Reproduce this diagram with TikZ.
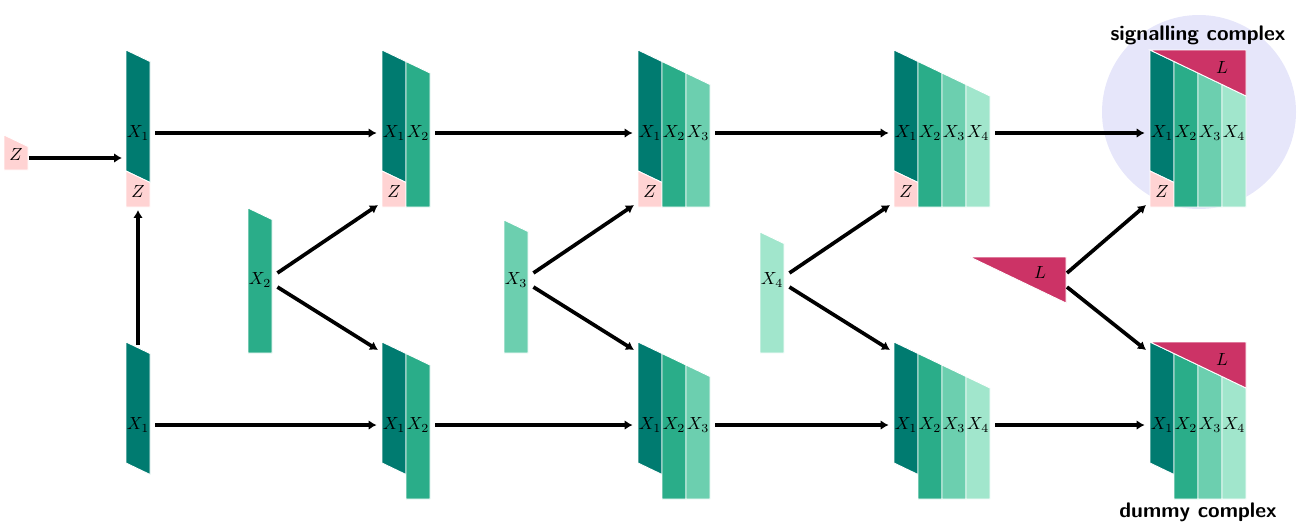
\documentclass[tikz,border=0pt]{standalone}
\usepackage{amsmath}
\usepackage{xcolor}
\usepackage{tikz}
\usetikzlibrary{arrows.meta}
\definecolor{shade1}{HTML}{007B70}
\definecolor{shade2}{HTML}{2AAD89}
\definecolor{shade3}{HTML}{6CCFAF}
\definecolor{shade4}{HTML}{A1E6CC}
\definecolor{zpink}{HTML}{FFD3D3}
\definecolor{lred}{HTML}{CC3366}
\definecolor{lavender}{HTML}{E6E6FA}
\tikzset {
  % one coloured strip of a complex
  strip/.style={draw=white, line width=0.5pt},
  zsub/.style={strip, fill=zpink},
  lsub/.style={strip, fill=lred},
  % arrows between the complexes
  link/.style={-{Latex[length=4.5pt,width=5.5pt]}, line width=2.1pt},
  tag/.style={font=\sffamily\bfseries\large},
}
% slanted X_1 strip: name, left x, top y
\newcommand{\xone}[3]{
  \fill[strip, fill=shade1] ({#2},{#3}) -- ++(24,11.5) -- ++(0,121) -- ++(-24,-11.5) -- cycle;
  \node (#1-1) at ({#2+12},{#3+83}) {$X_1$};
}
% Z piece under X_1: name, left x, top y
\newcommand{\zpart}[3]{
  \fill[zsub] ({#2},{#3+121}) -- ++(24,11.5) -- ({#2+24},{#3+157}) -- ({#2},{#3+157}) -- cycle;
  \node (#1-z) at ({#2+12},{#3+141}) {$Z$};
}
% X_i strip: name, index, left x, top y, bottom y, label y
\newcommand{\strip}[6]{
  \fill[strip, fill=shade#2] ({#3},{#4}) -- ++(24,11.5) -- ({#3+24},{#5}) -- ({#3},{#5}) -- cycle;
  \node (#1) at ({#3+12},{#6}) {$X_#2$};
}

\begin{document}
\begin{tikzpicture}[x=0.02cm, y=-0.02cm]
  \useasboundingbox (0,0) rectangle (1302,524);
  \fill[lavender] (1199,112) circle (97);

  % first column
  \xone{t1}{126}{50}
  \zpart{t1}{126}{50}
  \xone{b1}{126}{342}

  % the growing complexes
  \foreach \c/\n in {2/2, 3/3, 4/4, 5/4} {
    \pgfmathsetmacro\cx{126+256*(\c-1)}
    \xone{t\c}{\cx}{50}
    \zpart{t\c}{\cx}{50}
    \xone{b\c}{\cx}{342}
    \foreach \i in {2,...,\n} {
      \strip{t\c-\i}{\i}{\cx+24*(\i-1)}{50+11.5*(\i-1)}{207}{133}
      \strip{b\c-\i}{\i}{\cx+24*(\i-1)}{342+11.5*(\i-1)}{499}{425}
    }
    \coordinate (t\c-in) at ({\cx-4},205);
    \coordinate (b\c-in) at ({\cx-4},350);
  }

  % ligand on the last complexes
  \fill[lsub] (1150,50) -- (1246,50) -- (1246,96) -- cycle;
  \node (t5-l) at (1222,67) {$L$};
  \fill[lsub] (1150,342) -- (1246,342) -- (1246,388) -- cycle;
  \node (b5-l) at (1222,359) {$L$};

  % single subunits
  \fill[zsub] (4,135) -- ++(24,11.5) -- (28,170) -- (4,170) -- cycle;
  \node (zs) at (16,154) {$Z$};
  \strip{s2}{2}{248}{208}{353}{280}
  \strip{s3}{3}{504}{220}{353}{280}
  \strip{s4}{4}{760}{232}{353}{280}
  \fill[lsub] (970,257) -- (1066,257) -- (1066,303) -- cycle;
  \node (ls) at (1040,272) {$L$};
  \coordinate (ls-out) at (1067,280);

  \node[tag] (sig) at (1198,35) {signalling complex};
  \node[tag] (dum) at (1198,512) {dummy complex};

  % arrows
  \coordinate (t1-in) at (122,158);
  \coordinate (b1-top) at (138,345);
  \coordinate (t1-bot) at (138,210);
  \draw[link] (zs.east |- t1-in) -- (t1-in);
  \draw[link] (b1-top) -- (t1-bot);
  \foreach \a/\b in {1-1/2-1, 2-2/3-1, 3-3/4-1, 4-4/5-1} {
    \draw[link] (t\a) -- (t\b);
    \draw[link] (b\a) -- (b\b);
  }
  \foreach \s/\c in {s2/2, s3/3, s4/4, ls-out/5} {
    \draw[link] ([yshift=4pt]\s.east) -- (t\c-in);
    \draw[link] ([yshift=-4pt]\s.east) -- (b\c-in);
  }
\end{tikzpicture}
\end{document}
